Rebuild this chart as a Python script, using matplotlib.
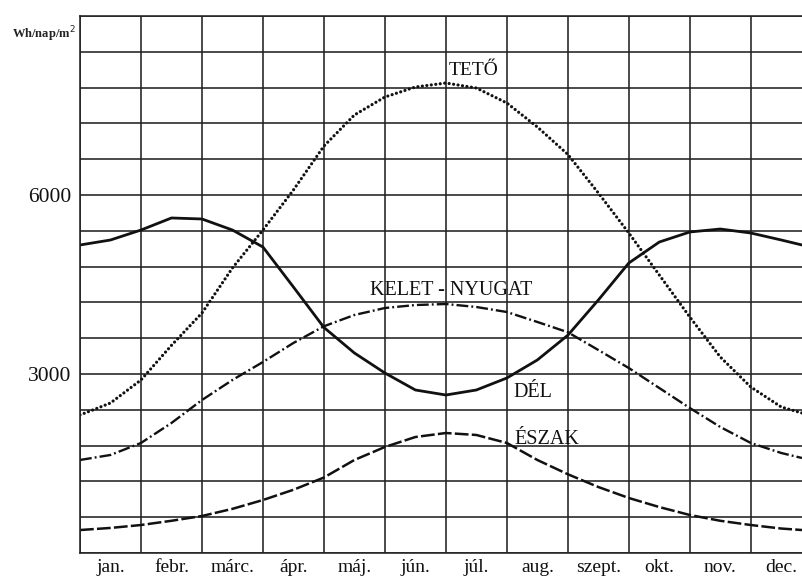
import matplotlib
matplotlib.use("Agg")
import matplotlib.pyplot as plt

# ---- data ----
months = ["jan.", "febr.", "márc.", "ápr.", "máj.", "jún.", "júl.",
          "aug.", "szept.", "okt.", "nov.", "dec."]
# positions along the year axis (month units; grid lines at integers)
pos = [0, 0.5, 1, 1.5, 2, 2.5, 3, 3.5, 4, 4.5, 5, 5.5, 6, 6.5, 7, 7.5,
       8, 8.5, 9, 9.5, 10, 10.5, 11, 11.5, 11.84]

teto = [2313, 2514, 2900, 3480, 4022, 4777, 5413, 6084, 6820, 7341, 7642,
        7810, 7877, 7793, 7542, 7140, 6680, 6034, 5363, 4659, 3955, 3285,
        2782, 2447, 2346]
del_ = [5162, 5246, 5413, 5615, 5598, 5413, 5128, 4458, 3780, 3352, 3017,
        2732, 2648, 2732, 2933, 3235, 3650, 4240, 4860, 5212, 5380, 5430,
        5363, 5246, 5162]
kelet = [1559, 1643, 1844, 2179, 2564, 2900, 3201, 3520, 3800, 3989, 4106,
         4156, 4173, 4123, 4039, 3872, 3700, 3402, 3100, 2765, 2430, 2112,
         1844, 1676, 1592]
eszak = [385, 420, 469, 540, 620, 740, 888, 1060, 1265, 1559, 1777, 1944,
         2011, 1978, 1844, 1559, 1320, 1106, 922, 770, 637, 540, 469, 410,
         385]

y_labels = {3000: "3000", 6000: "6000"}

plt.rcParams['font.family'] = ['Liberation Serif', 'DejaVu Serif']

fig = plt.figure(figsize=(8.02, 5.77), dpi=100)
ax = fig.add_axes([80 / 802, 24 / 577, 722 / 802, 537 / 577])

ax.set_xlim(0, 11.84)
ax.set_ylim(0, 9000)

# grid
yt = list(range(0, 9001, 600))
ax.set_yticks(yt)
ax.set_yticklabels([y_labels.get(v, "") for v in yt], fontsize=15.5)
ax.set_xticks(range(0, 12))
ax.set_xticklabels([])
ax.set_xticks([i + 0.5 for i in range(12)], minor=True)
ax.set_xticklabels(months, minor=True, fontsize=14)
ax.tick_params(axis='both', which='both', length=0, pad=4, colors='#111')
ax.tick_params(axis='y', pad=6)
ax.grid(True, which='major', color='#222', linewidth=1.15)
ax.set_axisbelow(True)
for s in ['left', 'bottom', 'top']:
    ax.spines[s].set_color('#222')
    ax.spines[s].set_linewidth(1.15)
ax.spines['right'].set_visible(False)

# curves
ax.plot(pos, teto, color='#111', linewidth=2.3, linestyle=(0, (0.01, 1.4)),
        dash_capstyle='round')
ax.plot(pos, del_, color='#111', linewidth=2.0, solid_joinstyle='round')
ax.plot(pos, kelet, color='#111', linewidth=1.7,
        linestyle=(0, (5, 1.3, 0.8, 1.3)))
ax.plot(pos, eszak, color='#111', linewidth=1.8, linestyle=(0, (5.5, 1.3)))

# curve labels
ax.text(6.05, 8080, "TETŐ", fontsize=14, ha='left', va='center', color='#111')
ax.text(4.75, 4400, "KELET - NYUGAT", fontsize=14.5, ha='left', va='center',
        color='#111')
ax.text(7.1, 2690, "DÉL", fontsize=14.5, ha='left', va='center', color='#111')
ax.text(7.13, 1900, "ÉSZAK", fontsize=14.5, ha='left', va='center',
        color='#111')

fig.text(12 / 802, 1 - 34 / 577, "Wh/nap/m$^2$", fontsize=9,
         fontweight='bold', ha='left', va='center', color='#222')

fig.savefig("out.png", dpi=100)
